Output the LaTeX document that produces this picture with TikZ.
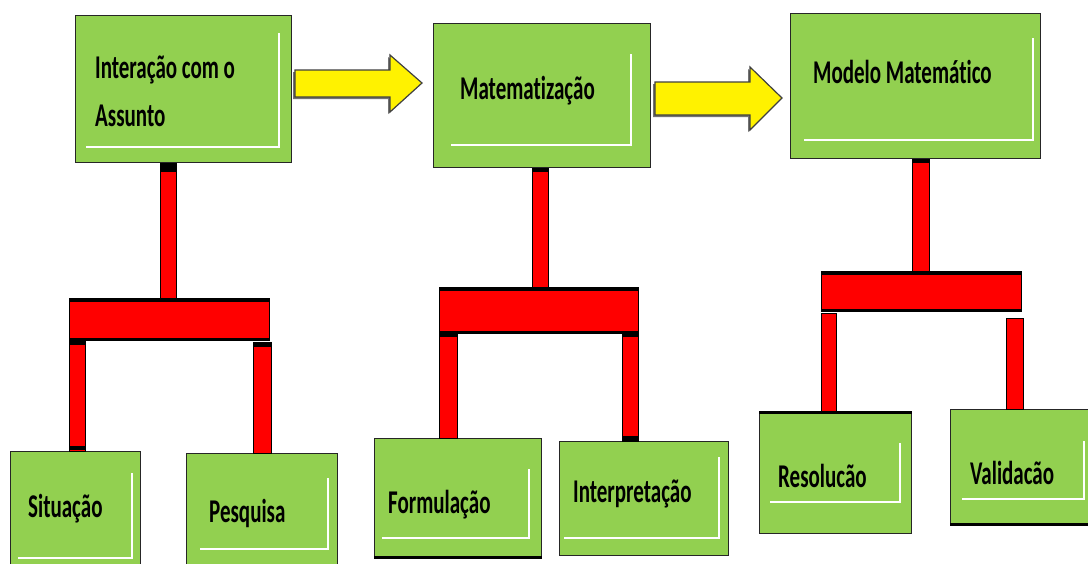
\documentclass[tikz,border=0pt]{standalone}
\usepackage{fontspec}
\setmainfont{Carlito}[Ligatures=NoCommon]
\usepackage{graphicx}
\definecolor{boxgreen}{HTML}{92D050}
\tikzset{
 box/.style={draw=black!85, line width=1.2pt, fill=boxgreen, inner sep=0pt, anchor=north west},
 lbl/.style={anchor=base west, inner sep=0pt, font=\fontsize{20}{24}\selectfont\bfseries},
 hl/.style={draw=white, line width=1.4pt},
 redpart/.style={fill=red, draw=black, line width=0.8pt},
 blk/.style={fill=black},
 blockarrow/.style={fill=yellow, draw=black!75, line width=1.2pt, line join=miter},
 arrowshadow/.style={fill=black!55}
}
\newcommand{\tx}[1]{\scalebox{1.05}[1.66]{#1}}
\begin{document}
\begin{tikzpicture}[x=1pt,y=-1pt]
\clip (0,0) rectangle (1088,563);
\fill[white] (0,0) rectangle (1088,563);

% ---------- boxes ----------
\node[box, minimum width=216pt, minimum height=147pt] (A) at (75,15) {};
\node[box, minimum width=217pt, minimum height=144pt] (B) at (433,23) {};
\node[box, minimum width=250pt, minimum height=145pt] (C) at (790,13) {};
\node[box, minimum width=130pt, minimum height=130pt] (S) at (10,451) {};
\node[box, minimum width=151pt, minimum height=130pt] (P) at (186,453) {};
\node[box, minimum width=167pt, minimum height=120pt] (F) at (374,438) {};
\node[box, minimum width=169pt, minimum height=114pt] (I) at (559,441) {};
\node[box, minimum width=152pt, minimum height=122pt] (R) at (759,411) {};
\node[box, minimum width=150pt, minimum height=116pt] (V) at (950,409) {};

% thicker dark edges
\fill[black] (F.south west) rectangle ([yshift=3pt]F.south east);
\fill[black] (R.north west) rectangle ([yshift=-3pt]R.north east);
\fill[black] (V.south west) rectangle ([yshift=3pt]V.south east);

% inner white lines
\draw[hl] (86,147) -- (279,147) -- (279,33);
\draw[hl] (451,145) -- (631,145) -- (631,54);
\draw[hl] (804,140) -- (1033,140) -- (1033,38);
\draw[hl] (18,558) -- (132,558) -- (132,473);
\draw[hl] (200,549) -- (328,549) -- (328,478);
\draw[hl] (382,538) -- (529,538) -- (529,469);
\draw[hl] (564,538) -- (719,538) -- (719,457);
\draw[hl] (770,502) -- (900,502) -- (900,443);
\draw[hl] (962,499) -- (1084,499) -- (1084,441);

% ---------- labels ----------
\node[lbl] (tA1) at (95,78) {\tx{Interação com o}};
\node[lbl] (tA2) at (95,126) {\tx{Assunto}};
\node[lbl] (tB) at (460,99) {\tx{Matematização}};
\node[lbl] (tC) at (813,83) {\tx{Modelo Matemático}};
\node[lbl] (tS) at (28,517) {\tx{Situação}};
\node[lbl] (tP) at (209,522) {\tx{Pesquisa}};
\node[lbl] (tF) at (388,513) {\tx{Formulação}};
\node[lbl] (tI) at (573,502) {\tx{Interpretação}};
\node[lbl] (tR) at (778,487) {\tx{Resolucão}};
\node[lbl] (tV) at (970,484) {\tx{Validacão}};

% ---------- yellow arrows ----------
\fill[arrowshadow] (293,72) -- (388,72) -- (388,57) -- (420,85) -- (388,114) -- (388,99) -- (293,99) -- cycle;
\draw[blockarrow] (295,70) -- (390,70) -- (390,55) -- (422,83) -- (390,112) -- (390,97) -- (295,97) -- cycle;
\fill[arrowshadow] (653,84) -- (748,84) -- (748,69) -- (780,100) -- (748,132) -- (748,117) -- (653,117) -- cycle;
\draw[blockarrow] (655,82) -- (750,82) -- (750,67) -- (782,98) -- (750,130) -- (750,115) -- (655,115) -- cycle;

% ---------- red connectors: A ----------
\node[redpart, minimum width=200pt, minimum height=42pt, inner sep=0pt, anchor=north west] (barA) at (69,298) {};
\draw[redpart] (A.south -| 160,0) rectangle (barA.north -| 176,0);
\fill[blk] (A.south -| 160,0) rectangle (176,172);
\fill[blk] (barA.north west) rectangle ([yshift=-4pt]barA.north east);
\fill[blk] (barA.south west) rectangle ([yshift=3pt]barA.south east);
\draw[redpart] (barA.south -| 69,0) rectangle (S.north -| 85,0);
\fill[blk] (69,340) rectangle (85,345);
\fill[blk] (69,446) rectangle (85,450);
\draw[redpart] (253,342) rectangle (P.north -| 271,0);
\fill[blk] (253,342) rectangle (271,347);

% ---------- red connectors: B ----------
\node[redpart, minimum width=199pt, minimum height=46pt, inner sep=0pt, anchor=north west] (barB) at (439,287) {};
\draw[redpart] (B.south -| 532,0) rectangle (barB.north -| 548,0);
\fill[blk] (B.south -| 532,0) rectangle (548,172);
\fill[blk] (barB.north west) rectangle ([yshift=-4pt]barB.north east);
\fill[blk] (barB.south west) rectangle ([yshift=3pt]barB.south east);
\draw[redpart] (barB.south -| 439,0) rectangle (F.north -| 457,0);
\fill[blk] (439,333) rectangle (457,337);
\draw[redpart] (barB.south -| 622,0) rectangle (I.north -| 638,0);
\fill[blk] (622,333) rectangle (638,337);
\fill[blk] (622,436) rectangle (638,441);

% ---------- red connectors: C ----------
\node[redpart, minimum width=200pt, minimum height=40pt, inner sep=0pt, anchor=north west] (barC) at (821,271) {};
\draw[redpart] (C.south -| 912,0) rectangle (barC.north -| 929,0);
\fill[blk] (C.south -| 912,0) rectangle (929,163);
\fill[blk] (barC.north west) rectangle ([yshift=-4pt]barC.north east);
\fill[blk] (barC.south west) rectangle ([yshift=3pt]barC.south east);
\draw[redpart] (821,313) rectangle (R.north -| 836,0);
\draw[redpart] (1006,318) rectangle (V.north -| 1023,0);
\end{tikzpicture}
\end{document}
